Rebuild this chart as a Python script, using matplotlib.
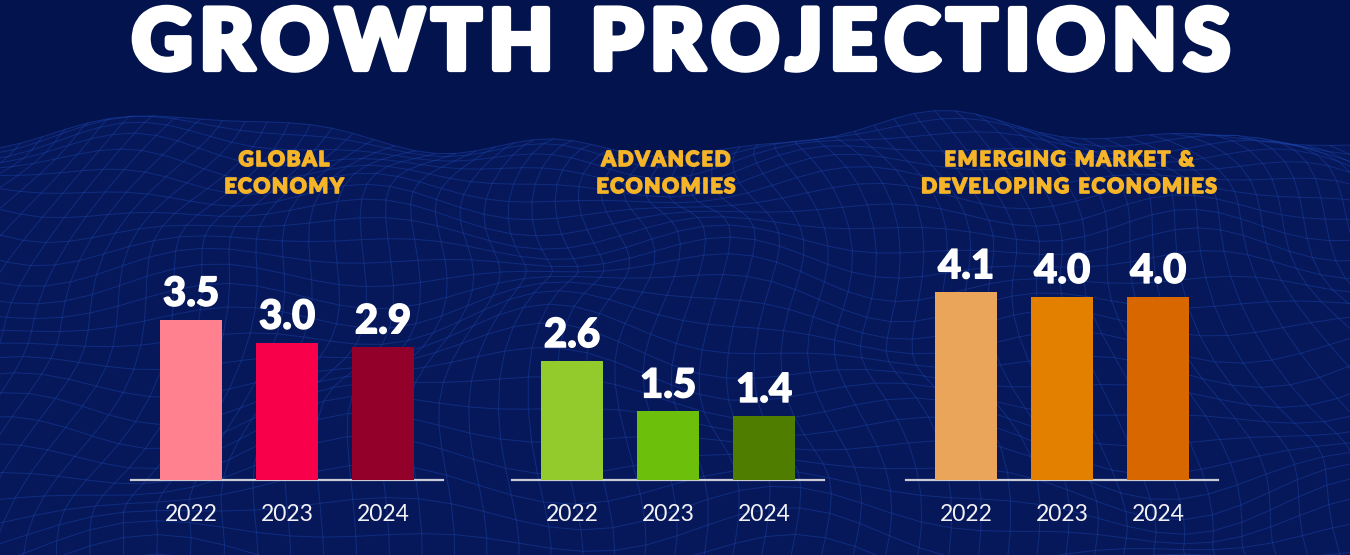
import matplotlib.pyplot as plt
import matplotlib.patheffects as pe
import numpy as np
from matplotlib.collections import LineCollection
from matplotlib.font_manager import FontProperties

# figure in pixels
W, H, DPI = 1350, 555, 100
BG = '#03134e'
GOLD = '#f6b428'

# ---- data ----
panel_titles = ['GLOBAL\nECONOMY', 'ADVANCED\nECONOMIES', 'EMERGING MARKET &\nDEVELOPING ECONOMIES']
years = ['2022', '2023', '2024']
global_vals = [3.5, 3.0, 2.9]
advanced_vals = [2.6, 1.5, 1.4]
emerging_vals = [4.1, 4.0, 4.0]
global_colors = ['#ff808f', '#f8004a', '#93002a']
advanced_colors = ['#93cb2c', '#6cbf0a', '#4f7d00']
emerging_colors = ['#eba55a', '#e38000', '#d96700']

# layout (pixels, from top-left)
panel_left = [131, 512, 906]
title_cx = [284, 666, 1069]


def tracked(fig, x, y, s, size, color, tracking=0.0, width=None, stroke=0.0,
            weight='black', family='Lato'):
    """draw text char by char so letter spacing can be widened"""
    fp = FontProperties(family=family, weight=weight, size=size)
    r = fig.canvas.get_renderer()
    ws = []
    for ch in s:
        if ch == ' ':
            ws.append(size * DPI / 72 * 0.27)
        else:
            w, _, _ = r.get_text_width_height_descent(ch, fp, ismath=False)
            ws.append(w)
    if width is not None:
        tracking = (width - sum(ws)) / (len(s) - 1)
    total = sum(ws) + tracking * (len(s) - 1)
    cx = x - total / 2
    eff = [pe.withStroke(linewidth=stroke, foreground=color)] if stroke else None
    for ch, w in zip(s, ws):
        if ch != ' ':
            fig.text(cx / W, 1 - y / H, ch, fontproperties=fp, color=color,
                     ha='left', va='baseline', path_effects=eff)
        cx += w + tracking


fig = plt.figure(figsize=(W / DPI, H / DPI), dpi=DPI, facecolor=BG)

# background with wireframe "terrain"
bg = fig.add_axes([0, 0, 1, 1])
bg.set_xlim(0, W)
bg.set_ylim(H, 0)
bg.axis('off')
bg.set_facecolor(BG)

u = np.linspace(-0.1, 1.1, 68)
v = np.linspace(0, 1, 28)
U, V = np.meshgrid(u, v)
hgt = (22 * np.sin(2 * np.pi * (U * 1.4 + 0.15)) * np.cos(2 * np.pi * V * 0.8)
       + 12 * np.sin(2 * np.pi * (U * 3.1 + V * 1.7))
       + 8 * np.cos(2 * np.pi * (U * 5.3 - V * 2.2)))
X = W / 2 + (U - 0.5) * W * (0.85 + 0.5 * V) + 18 * np.sin(2 * np.pi * (V * 2 + U))
Y = 138 + 470 * V ** 1.35 - hgt * (0.7 + 0.8 * V)
bg.fill_between(X[0], Y[0], H + 10, color='#06185a', zorder=0)
segs = [np.column_stack([X[i], Y[i]]) for i in range(len(v))]
segs += [np.column_stack([X[:, j], Y[:, j]]) for j in range(len(u))]
bg.add_collection(LineCollection(segs, colors='#1d46ad', linewidths=0.7, alpha=0.45, zorder=1))

# main title
tracked(fig, 681, 69, 'GROWTH PROJECTIONS', 60, 'white', width=1098, stroke=4.5)

series = [global_vals, advanced_vals, emerging_vals]
colors = [global_colors, advanced_colors, emerging_colors]
xpos = np.arange(len(years))

for k in range(3):
    # panel heading, two lines
    for line, yb in zip(panel_titles[k].split('\n'), [166, 193]):
        tracked(fig, title_cx[k], yb, line, 15, GOLD, tracking=1.6, stroke=1.2)

    ax = fig.add_axes([panel_left[k] / W, 75 / H, 312 / W, 229 / H])
    ax.patch.set_alpha(0)
    ax.bar(xpos, series[k], width=0.65, color=colors[k], zorder=3)
    ax.set_xlim(-0.625, 2.625)
    ax.set_ylim(0, 5)
    for sp in ['top', 'left', 'right']:
        ax.spines[sp].set_visible(False)
    ax.spines['bottom'].set_color('#c9cbd6')
    ax.spines['bottom'].set_linewidth(1.6)
    ax.set_yticks([])
    ax.set_xticks(xpos, years)
    ax.tick_params(axis='x', length=0, pad=17, labelsize=16.5, labelcolor='#f2f2f5')
    for lab in ax.get_xticklabels():
        lab.set_family('Lato')
    for xi, val in zip(xpos, series[k]):
        ax.annotate(f'{val:.1f}', (xi, val), xytext=(0, 10), textcoords='offset points',
                    ha='center', va='baseline', color='white', fontsize=29,
                    fontweight='black', family='Lato',
                    path_effects=[pe.withStroke(linewidth=1.0, foreground='white')])

fig.savefig('out.png', dpi=DPI, facecolor=BG)
